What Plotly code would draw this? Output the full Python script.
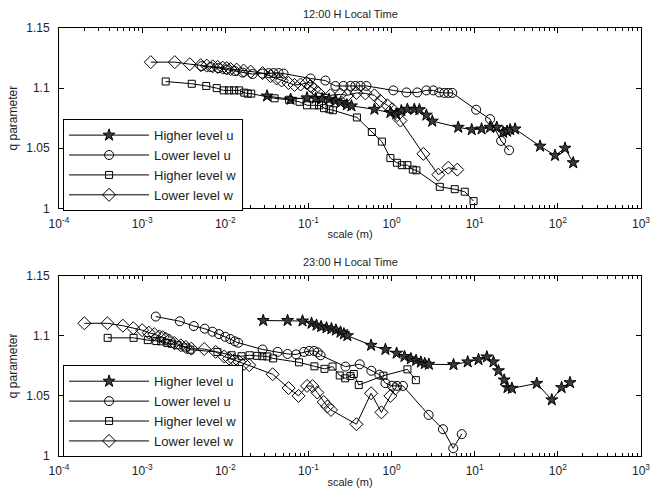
import plotly.graph_objects as go

# ---------------- data: 12:00 H Local Time ----------------
top_hu_x = [0.0318, 0.0610, 0.0962, 0.122, 0.146, 0.177, 0.211, 0.243, 0.290, 0.329, 0.622, 0.968, 1.14, 1.31,
            1.55, 1.88, 2.16, 2.62, 3.09, 6.34, 9.21, 12.1, 15.3, 18.4, 22.0, 24.5, 26.7, 30.6, 61.1, 92.5, 122, 153]
top_hu_q = [1.0934, 1.0907, 1.0919, 1.0915, 1.0912, 1.0907, 1.0893, 1.0880, 1.0861, 1.0852, 1.0824, 1.0797, 1.0783,
            1.0812, 1.0824, 1.0824, 1.0820, 1.0775, 1.0725, 1.0674, 1.0654, 1.0660, 1.0674, 1.0674, 1.0632, 1.0641,
            1.0654, 1.0660, 1.0517, 1.0440, 1.0500, 1.0379]

top_lu_x = [0.00521, 0.00668, 0.00834, 0.0104, 0.0130, 0.0162, 0.0213, 0.0281, 0.0332, 0.0381, 0.0438, 0.0502,
            0.106, 0.160, 0.211, 0.264, 0.320, 0.367, 0.422, 0.498, 1.05, 1.51, 2.04, 2.62, 3.18, 3.75, 4.31, 4.81,
            5.37, 10.4, 15.3, 20.8, 25.9]
top_lu_q = [1.1183, 1.1175, 1.1166, 1.1154, 1.1142, 1.1129, 1.1117, 1.1121, 1.1125, 1.1125, 1.1125, 1.1121, 1.1080,
            1.1063, 1.1018, 1.1018, 1.1018, 1.1018, 1.1018, 1.1018, 1.0981, 1.0964, 1.0964, 1.0981, 1.0981, 1.0964,
            1.0960, 1.0960, 1.0960, 1.0820, 1.0742, 1.0561, 1.0483]

top_hw_x = [0.00192, 0.00395, 0.00590, 0.00789, 0.00957, 0.0111, 0.0128, 0.0147, 0.0169, 0.0186, 0.0205, 0.0392,
            0.0585, 0.0782, 0.0962, 0.117, 0.134, 0.154, 0.179, 0.197, 0.383, 0.579, 0.765, 0.968, 1.16, 1.33, 1.55,
            1.80, 1.99, 3.80, 5.75, 7.59, 9.68]
top_hw_q = [1.1055, 1.1036, 1.1018, 1.1000, 1.0981, 1.0981, 1.0981, 1.0981, 1.0962, 1.0954, 1.0954, 1.0915, 1.0903,
            1.0886, 1.0857, 1.0857, 1.0857, 1.0833, 1.0824, 1.0816, 1.0756, 1.0635, 1.0555, 1.0418, 1.0379, 1.0359,
            1.0359, 1.0322, 1.0316, 1.0179, 1.0159, 1.0138, 1.0060]

top_lw_x = [0.00127, 0.00247, 0.00374, 0.00507, 0.00598, 0.00706, 0.00811, 0.00931, 0.0104, 0.0116, 0.0137, 0.0166,
            0.0202, 0.0281, 0.0351, 0.0414, 0.0475, 0.0577, 0.0681, 0.0804, 0.0948, 0.106, 0.118, 0.132, 0.184, 0.243,
            0.294, 0.378, 0.484, 0.622, 0.734, 0.891, 1.02, 1.17, 1.28, 2.41, 3.65, 4.81, 6.17]
top_lw_q = [1.1216, 1.1216, 1.1199, 1.1191, 1.1187, 1.1181, 1.1176, 1.1170, 1.1166, 1.1158, 1.1154, 1.1146, 1.1137,
            1.1125, 1.1100, 1.1080, 1.1063, 1.1043, 1.1026, 1.1030, 1.1043, 1.1018, 1.0989, 1.0960, 1.0940, 1.0948,
            1.0940, 1.0960, 1.0956, 1.0940, 1.0894, 1.0857, 1.0824, 1.0775, 1.0730, 1.0453, 1.0280, 1.0338, 1.0322]

# ---------------- data: 23:00 H Local Time ----------------
bot_hu_x = [0.0286, 0.0561, 0.0849, 0.109, 0.125, 0.142, 0.165, 0.189, 0.214, 0.243, 0.267, 0.294, 0.567, 0.843,
            1.15, 1.43, 1.71, 1.97, 2.25, 2.51, 2.81, 5.56, 8.24, 11.1, 14.0, 16.8, 19.3, 22.6, 24.8, 28.0, 55.8,
            84.5, 111, 140]
bot_hu_q = [1.1127, 1.1127, 1.1123, 1.1104, 1.1088, 1.1076, 1.1066, 1.1058, 1.1047, 1.1030, 1.1016, 1.1001, 1.0921,
            1.0886, 1.0855, 1.0828, 1.0809, 1.0795, 1.0781, 1.0769, 1.0763, 1.0760, 1.0783, 1.0802, 1.0824, 1.0783,
            1.0709, 1.0632, 1.0569, 1.0563, 1.0604, 1.0467, 1.0569, 1.0610]

bot_lu_x = [0.00146, 0.00284, 0.00418, 0.00566, 0.00701, 0.00840, 0.00997, 0.0115, 0.0130, 0.0143, 0.0281, 0.0426,
            0.0561, 0.0710, 0.0885, 0.102, 0.117, 0.129, 0.140, 0.279, 0.414, 0.571, 0.714, 0.843, 1.01, 1.16, 1.37,
            2.79, 4.15, 5.52, 6.98]
bot_lu_q = [1.1160, 1.1121, 1.1081, 1.1059, 1.1034, 1.1014, 1.0992, 1.0973, 1.0954, 1.0942, 1.0886, 1.0866, 1.0849,
            1.0845, 1.0866, 1.0874, 1.0874, 1.0862, 1.0838, 1.0744, 1.0763, 1.0709, 1.0676, 1.0606, 1.0585, 1.0583,
            1.0583, 1.0342, 1.0223, 1.0064, 1.0182]

bot_hw_x = [0.000385, 0.000789, 0.00117, 0.00148, 0.00170, 0.00200, 0.00226, 0.00268, 0.00335, 0.00379, 0.00804,
            0.0119, 0.0157, 0.0196, 0.0242, 0.0279, 0.0320, 0.0376, 0.0771, 0.118, 0.156, 0.195, 0.238, 0.277, 0.320,
            0.351, 0.403, 0.798, 1.55, 1.96]
bot_hw_q = [1.0983, 1.0983, 1.0964, 1.0956, 1.0954, 1.0941, 1.0934, 1.0921, 1.0903, 1.0884, 1.0866, 1.0838, 1.0830,
            1.0838, 1.0833, 1.0830, 1.0828, 1.0812, 1.0779, 1.0746, 1.0725, 1.0744, 1.0670, 1.0646, 1.0665, 1.0682,
            1.0591, 1.0668, 1.0721, 1.0631]

bot_lw_x = [0.000202, 0.000382, 0.000586, 0.000783, 0.00100, 0.00120, 0.00140, 0.00161, 0.00177, 0.00193, 0.00212,
            0.00244, 0.00292, 0.00335, 0.00390, 0.00558, 0.00767, 0.00970, 0.0111, 0.0128, 0.0147, 0.0169, 0.0194,
            0.0371, 0.0577, 0.0760, 0.0962, 0.112, 0.128, 0.153, 0.169, 0.187, 0.378, 0.567, 0.755, 0.968, 1.11]
bot_lw_q = [1.1104, 1.1104, 1.1084, 1.1063, 1.1047, 1.1026, 1.1014, 1.0995, 1.0989, 1.0975, 1.0962, 1.0940, 1.0921,
            1.0907, 1.0893, 1.0890, 1.0866, 1.0828, 1.0810, 1.0797, 1.0783, 1.0767, 1.0756, 1.0680, 1.0565, 1.0500,
            1.0583, 1.0581, 1.0528, 1.0449, 1.0412, 1.0383, 1.0264, 1.0522, 1.0363, 1.0500, 1.0561]

series_names = ["Higher level u", "Lower level u", "Higher level w", "Lower level w"]
titles = ["12:00 H Local Time", "23:00 H Local Time"]
x_tick_vals = [1e-4, 1e-3, 1e-2, 1e-1, 1e0, 1e1, 1e2, 1e3]
x_tick_text = ["10<sup>-4</sup>", "10<sup>-3</sup>", "10<sup>-2</sup>", "10<sup>-1</sup>",
               "10<sup>0</sup>", "10<sup>1</sup>", "10<sup>2</sup>", "10<sup>3</sup>"]
y_tick_vals = [1.0, 1.05, 1.1, 1.15]
y_tick_text = ["1", "1.05", "1.1", "1.15"]

FONT = "Liberation Sans, Arial, sans-serif"
styles = [
    dict(symbol="star", size=9, color="#3a3a3a", line=dict(color="black", width=1)),
    dict(symbol="circle-open", size=9, color="black", line=dict(color="black", width=1)),
    dict(symbol="square-open", size=7, color="black", line=dict(color="black", width=1)),
    dict(symbol="diamond-open", size=10, color="black", line=dict(color="black", width=1)),
]

fig = go.Figure()
panels = [
    ("x", "y", "legend", [(top_hu_x, top_hu_q), (top_lu_x, top_lu_q), (top_hw_x, top_hw_q), (top_lw_x, top_lw_q)]),
    ("x2", "y2", "legend2", [(bot_hu_x, bot_hu_q), (bot_lu_x, bot_lu_q), (bot_hw_x, bot_hw_q), (bot_lw_x, bot_lw_q)]),
]
for xa, ya, leg, data in panels:
    for name, (xs, qs), st in zip(series_names, data, styles):
        fig.add_trace(go.Scatter(x=xs, y=qs, mode="lines+markers", name=name, xaxis=xa, yaxis=ya,
                                 legend=leg, line=dict(color="black", width=1), marker=st))

minor_vals = [m * 10 ** e for e in range(-4, 3) for m in range(2, 10)]
xcommon = dict(type="log", range=[-4, 3], tickvals=x_tick_vals, ticktext=x_tick_text,
               showline=True, linecolor="black", linewidth=1, mirror="ticks", ticks="inside",
               ticklen=5, tickcolor="black", showgrid=False, zeroline=False, ticklabelstandoff=4,
               minor=dict(tickvals=minor_vals, ticks="inside", ticklen=3, tickcolor="black", showgrid=False),
               tickfont=dict(size=12, color="#222"),
               title=dict(text="scale (m)", font=dict(size=11, color="#222"), standoff=0))
ycommon = dict(range=[1.0, 1.15], tickvals=y_tick_vals, ticktext=y_tick_text,
               showline=True, linecolor="black", linewidth=1, mirror="ticks", ticks="inside",
               ticklen=5, tickcolor="black", showgrid=False, zeroline=False, ticklabelstandoff=6,
               tickfont=dict(size=12, color="#222"),
               title=dict(text="q parameter", font=dict(size=12, color="#222"), standoff=6))

legcommon = dict(x=0.007, xanchor="left", yanchor="top", bgcolor="white", bordercolor="black", borderwidth=1,
                 font=dict(size=13, color="#222", family=FONT), itemwidth=80, tracegroupgap=0)

fig.update_layout(
    width=663, height=498,
    margin=dict(l=58, r=22, t=28, b=38),
    paper_bgcolor="white", plot_bgcolor="white",
    font=dict(family=FONT, color="#222"),
    xaxis=dict(domain=[0, 1], anchor="y", **xcommon),
    yaxis=dict(domain=[0.5787, 1], anchor="x", **ycommon),
    xaxis2=dict(domain=[0, 1], anchor="y2", **xcommon),
    yaxis2=dict(domain=[0, 0.4213], anchor="x2", **ycommon),
    legend=dict(y=0.787, **legcommon),
    legend2=dict(y=0.212, **legcommon),
    showlegend=True,
    annotations=[
        dict(text=titles[0], x=0.5, y=1.0, xref="paper", yref="paper", xanchor="center", yanchor="bottom",
             yshift=6, showarrow=False, font=dict(size=11, color="#222")),
        dict(text=titles[1], x=0.5, y=0.4213, xref="paper", yref="paper", xanchor="center", yanchor="bottom",
             yshift=6, showarrow=False, font=dict(size=11, color="#222")),
    ],
)

fig.write_html("out.html")
